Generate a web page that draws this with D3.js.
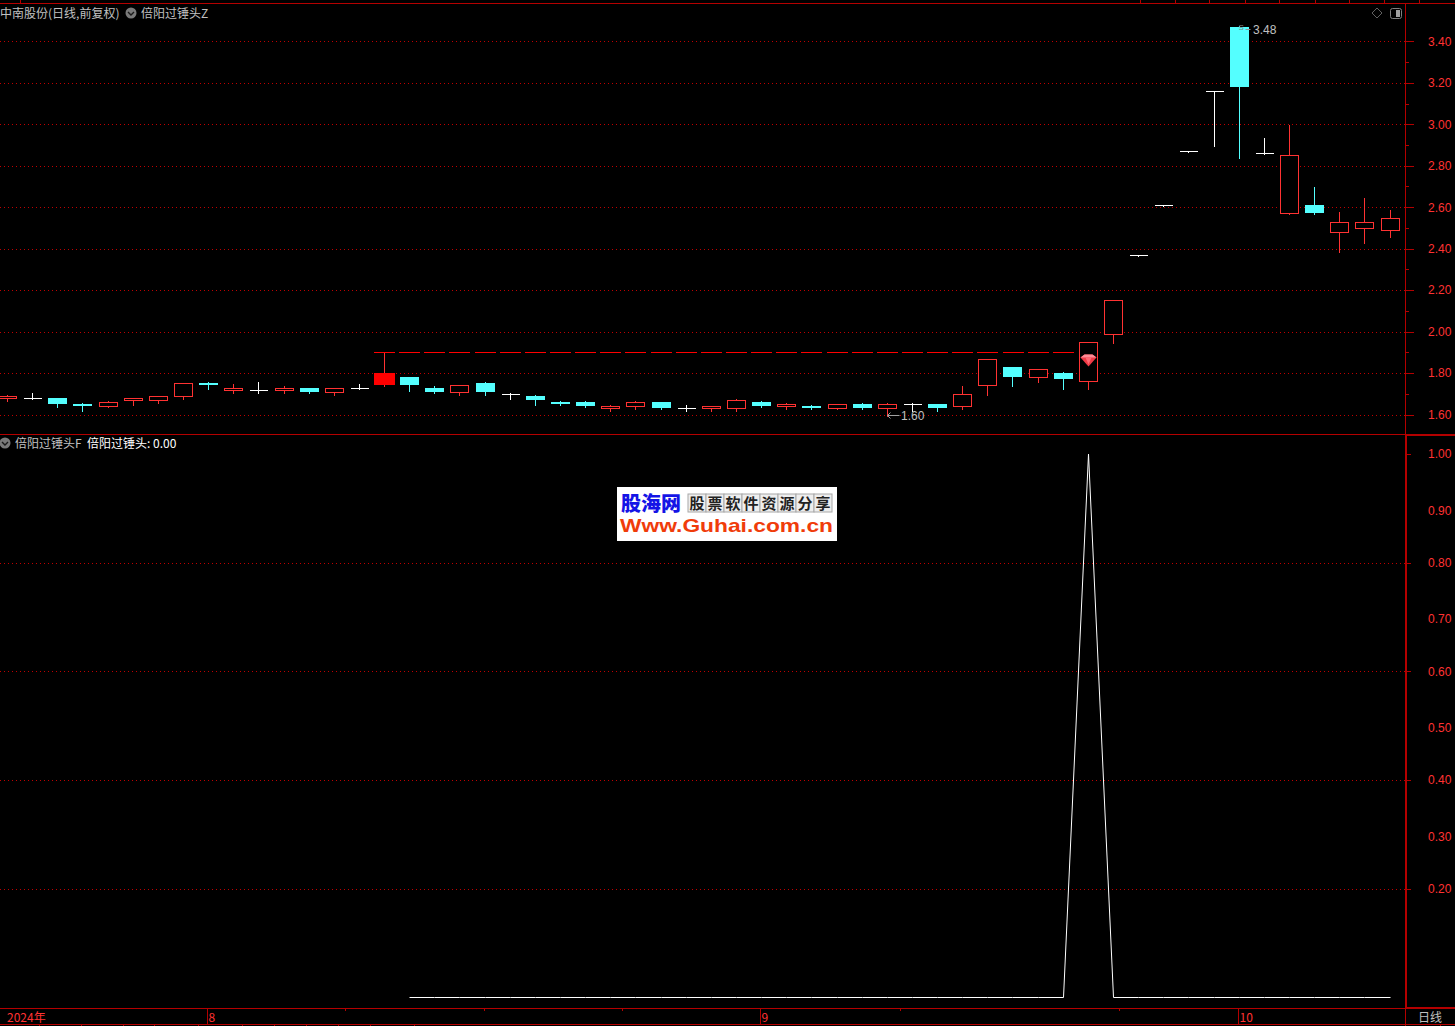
<!DOCTYPE html>
<html lang="zh">
<head>
<meta charset="utf-8">
<title>中南股份 日线</title>
<script src="https://cdn.jsdelivr.net/npm/d3@7"></script>
<style>
  html, body { margin: 0; padding: 0; background: #000; overflow: hidden; }
  svg { display: block; }
  text { font-family: "Noto Sans CJK SC", "Liberation Sans", sans-serif; font-size: 12px; }
  .num text, text.num { font-family: "Liberation Sans", sans-serif; }
</style>
</head>
<body>
<svg id="chart" width="1455" height="1026"></svg>
<script>
// Trading days shown in the window
const dates = [
  "07-22", "07-23", "07-24", "07-25", "07-26", "07-29", "07-30", "07-31",
  "08-01", "08-02", "08-05", "08-06", "08-07", "08-08", "08-09", "08-12",
  "08-13", "08-14", "08-15", "08-16", "08-19", "08-20", "08-21", "08-22",
  "08-23", "08-26", "08-27", "08-28", "08-29", "08-30",
  "09-02", "09-03", "09-04", "09-05", "09-06", "09-09", "09-10", "09-11",
  "09-12", "09-13", "09-18", "09-19", "09-20", "09-23", "09-24", "09-25",
  "09-26", "09-27", "09-30",
  "10-08", "10-09", "10-10", "10-11", "10-14", "10-15", "10-16"
];

const opens = [
  1.68, 1.68, 1.68, 1.65, 1.64, 1.67, 1.67, 1.69, 1.75, 1.72,
  1.72, 1.72, 1.73, 1.71, 1.73, 1.74, 1.78, 1.73, 1.71, 1.75,
  1.70, 1.69, 1.66, 1.66, 1.63, 1.64, 1.66, 1.63, 1.63, 1.63,
  1.66, 1.64, 1.64, 1.63, 1.65, 1.63, 1.65, 1.65, 1.64, 1.74,
  1.83, 1.78, 1.80, 1.76, 1.99, 2.37, 2.61, 2.87, 3.16, 3.47,
  2.86, 2.57, 2.61, 2.48, 2.50, 2.49
];
const highs = [
  1.70, 1.71, 1.68, 1.66, 1.67, 1.68, 1.69, 1.75, 1.76, 1.75,
  1.76, 1.74, 1.73, 1.73, 1.75, 1.90, 1.78, 1.74, 1.74, 1.76,
  1.71, 1.70, 1.67, 1.67, 1.65, 1.67, 1.66, 1.65, 1.64, 1.68,
  1.67, 1.66, 1.65, 1.65, 1.66, 1.66, 1.66, 1.65, 1.74, 1.87,
  1.83, 1.82, 1.81, 1.95, 2.15, 2.37, 2.61, 2.87, 3.16, 3.48,
  2.94, 3.00, 2.70, 2.58, 2.65, 2.59
];
const lows = [
  1.67, 1.68, 1.64, 1.62, 1.64, 1.65, 1.66, 1.68, 1.73, 1.71,
  1.71, 1.71, 1.71, 1.70, 1.73, 1.74, 1.72, 1.71, 1.70, 1.70,
  1.68, 1.65, 1.65, 1.64, 1.62, 1.63, 1.63, 1.62, 1.62, 1.62,
  1.64, 1.63, 1.63, 1.63, 1.63, 1.60, 1.62, 1.62, 1.63, 1.70,
  1.74, 1.76, 1.73, 1.73, 1.95, 2.37, 2.61, 2.87, 2.90, 2.84,
  2.86, 2.57, 2.57, 2.39, 2.43, 2.46
];
const closes = [
  1.69, 1.68, 1.65, 1.64, 1.66, 1.68, 1.69, 1.75, 1.74, 1.73,
  1.72, 1.73, 1.71, 1.73, 1.73, 1.80, 1.74, 1.71, 1.74, 1.71,
  1.70, 1.67, 1.65, 1.64, 1.64, 1.66, 1.63, 1.63, 1.64, 1.67,
  1.64, 1.65, 1.63, 1.65, 1.63, 1.65, 1.65, 1.63, 1.70, 1.87,
  1.78, 1.82, 1.77, 1.95, 2.15, 2.37, 2.61, 2.87, 3.16, 3.18,
  2.86, 2.85, 2.57, 2.53, 2.53, 2.55
];

// Indicator line, only drawn from the 17th day on
const signal = [
  null, null, null, null, null, null, null, null,
  null, null, null, null, null, null, null, null,
  0, 0, 0, 0, 0, 0, 0, 0, 0, 0, 0, 0, 0, 0,
  0, 0, 0, 0, 0, 0, 0, 0, 0, 0, 0, 0, 0, 1, 0, 0,
  0, 0, 0, 0, 0, 0, 0, 0, 0, 0
];

const filledUpDays = ["08-12"];       // solid red candle
const guideLevel = 1.90;
const guideFrom = "08-12";
const guideTo = "09-20";
const signalDay = "09-23";

const priceMajor = [1.6, 1.8, 2.0, 2.2, 2.4, 2.6, 2.8, 3.0, 3.2, 3.4];
const priceMinor = [1.7, 1.9, 2.1, 2.3, 2.5, 2.7, 2.9, 3.1, 3.3];
const signalGrid = [0.2, 0.4, 0.6, 0.8];
const signalMajor = [0.2, 0.4, 0.6, 0.8, 1.0];
const signalMinor = [0.3, 0.5, 0.7, 0.9];

const monthTicks = [
  { date: "07-22", label: "2024年" },
  { date: "08-01", label: "8" },
  { date: "09-02", label: "9" },
  { date: "10-08", label: "10" }
];

const RED = "#ff3232";
const CYAN = "#54ffff";
const DARK_RED = "#b40000";
const GREY = "#c0c0c0";

const W = 1455;
const H = 1026;
const plotRight = 1405.5;

const svg = d3.select("#chart").attr("viewBox", `0 0 ${W} ${H}`);
svg.append("rect").attr("width", W).attr("height", H).attr("fill", "#000");

const x = d3.scalePoint().domain(dates).range([7.5, 1390]);
const yPrice = d3.scaleLinear().domain([1.6, 3.4]).range([414.5, 41.3]);
const ySignal = d3.scaleLinear().domain([0, 1]).range([997.5, 454]);

const px = v => Math.round(v) + 0.5;
const cx = d => Math.floor(x(d)) + 0.5;

const candles = dates.map((date, i) => ({
  date,
  open: opens[i],
  high: highs[i],
  low: lows[i],
  close: closes[i]
}));

const gGrid = svg.append("g").attr("shape-rendering", "crispEdges");
const gFrame = svg.append("g").attr("shape-rendering", "crispEdges");
const gCandles = svg.append("g").attr("shape-rendering", "crispEdges");
const gLine = svg.append("g");
const gText = svg.append("g");

// Dotted grid lines
function gridLines(values, scale) {
  gGrid.append("g").selectAll("line").data(values).join("line")
    .attr("x1", 0)
    .attr("x2", plotRight)
    .attr("y1", d => px(scale(d)))
    .attr("y2", d => px(scale(d)))
    .attr("stroke", "#c00000")
    .attr("stroke-dasharray", "1 3");
}
gridLines(priceMajor, yPrice);
gridLines(signalGrid, ySignal);

// Right hand axes
function rightAxis(scale, values, size, padding, fmt) {
  const g = gFrame.append("g")
    .attr("class", "num")
    .attr("transform", `translate(${plotRight},0)`)
    .call(d3.axisRight(scale).tickValues(values).tickSize(size).tickPadding(padding).tickFormat(fmt));
  g.select(".domain").remove();
  g.selectAll("line").attr("stroke", DARK_RED);
  g.selectAll("text")
    .attr("fill", RED)
    .style("font-size", "12px");
  return g;
}
rightAxis(yPrice, priceMajor, 8, 14.5, d3.format(".2f"));
rightAxis(yPrice, priceMinor, 3, 0, () => "");
rightAxis(ySignal, signalMajor, 5, 17.5, d3.format(".2f"));
rightAxis(ySignal, signalMinor, 1, 21.5, d3.format(".2f"))
  .selectAll("text").attr("y", 2);

// Panel frame
const frame = [
  [0, 3.5, W, 3.5, 1],
  [0, 434.5, plotRight, 434.5, 1],
  [plotRight, 435, W, 435, 2],
  [0, 1008.5, plotRight, 1008.5, 1],
  [plotRight, 1008, W, 1008, 2],
  [0, 1024.5, W, 1024.5, 1],
  [plotRight, 3, plotRight, 435, 1],
  [1406, 435, 1406, 1008, 2],
  [plotRight, 1008, plotRight, H, 1]
];
gFrame.append("g").selectAll("line").data(frame).join("line")
  .attr("x1", d => d[0]).attr("y1", d => d[1])
  .attr("x2", d => d[2]).attr("y2", d => d[3])
  .attr("stroke", DARK_RED)
  .attr("stroke-width", d => d[4]);

// Small ticks on the window edges and the time axis
const topEdgeTicks = [20, 1140, 1175, 1209, 1245, 1279, 1315, 1349, 1384, 1419];
const bottomEdgeTicks = [39, 81, 123, 154, 198, 242, 274, 306, 338, 370, 414, 1440];
const timeMinorTicks = [345, 484, 622, 900, 1119];
gFrame.append("g").selectAll("line").data(topEdgeTicks).join("line")
  .attr("x1", d => d + 0.5).attr("x2", d => d + 0.5)
  .attr("y1", 0).attr("y2", 3)
  .attr("stroke", DARK_RED);
gFrame.append("g").selectAll("line").data(bottomEdgeTicks).join("line")
  .attr("x1", d => d + 0.5).attr("x2", d => d + 0.5)
  .attr("y1", 1024).attr("y2", H)
  .attr("stroke", DARK_RED);
gFrame.append("g").selectAll("line").data(timeMinorTicks).join("line")
  .attr("x1", d => d + 0.5).attr("x2", d => d + 0.5)
  .attr("y1", 1009).attr("y2", 1011)
  .attr("stroke", DARK_RED);
gFrame.append("g").selectAll("line").data(monthTicks.slice(1)).join("line")
  .attr("x1", d => cx(d.date) - 1).attr("x2", d => cx(d.date) - 1)
  .attr("y1", 1009).attr("y2", 1024)
  .attr("stroke", DARK_RED);

// Dashed level line
gCandles.append("line")
  .attr("x1", x(guideFrom) - 10.5)
  .attr("x2", x(guideTo) + 10.5)
  .attr("y1", px(yPrice(guideLevel)))
  .attr("y2", px(yPrice(guideLevel)))
  .attr("stroke", "#ff0000")
  .attr("stroke-dasharray", "21 4.14");

// Candles
function candleColor(d) {
  if (d.close > d.open) return RED;
  if (d.close < d.open) return CYAN;
  return "#ffffff";
}

const candle = gCandles.selectAll("g.candle").data(candles).join("g").attr("class", "candle");

candle.append("line")
  .attr("x1", d => cx(d.date))
  .attr("x2", d => cx(d.date))
  .attr("y1", d => px(yPrice(d.high)))
  .attr("y2", d => px(yPrice(d.low)) + 1)
  .attr("stroke", candleColor);

candle.filter(d => d.close === d.open).append("line")
  .attr("x1", d => cx(d.date) - 9)
  .attr("x2", d => cx(d.date) + 9)
  .attr("y1", d => px(yPrice(d.close)))
  .attr("y2", d => px(yPrice(d.close)))
  .attr("stroke", "#ffffff");

candle.filter(d => d.close > d.open && !filledUpDays.includes(d.date)).append("rect")
  .attr("x", d => cx(d.date) - 9)
  .attr("width", 18)
  .attr("y", d => px(yPrice(d.close)))
  .attr("height", d => px(yPrice(d.open)) - px(yPrice(d.close)))
  .attr("fill", "#000")
  .attr("stroke", RED);

candle.filter(d => d.close < d.open).append("rect")
  .attr("x", d => cx(d.date) - 9.5)
  .attr("width", 19)
  .attr("y", d => Math.round(yPrice(d.open)))
  .attr("height", d => Math.max(2, Math.round(yPrice(d.close)) - Math.round(yPrice(d.open))))
  .attr("fill", CYAN);

candle.filter(d => filledUpDays.includes(d.date)).append("rect")
  .attr("x", d => cx(d.date) - 10.5)
  .attr("width", 21)
  .attr("y", d => Math.round(yPrice(d.close)))
  .attr("height", d => Math.round(yPrice(d.open)) - Math.round(yPrice(d.close)))
  .attr("fill", "#ff0000");

// Gem marker on the signal day
const gem = gLine.append("g")
  .attr("transform", `translate(${cx(signalDay)},${yPrice(1.865)})`);
gem.append("path").attr("d", "M-8,-2 L-4,-5 L4,-5 L8,-2 L0,7 Z").attr("fill", "#f03a46");
gem.append("path").attr("d", "M-8,-2 L-4,-5 L4,-5 L8,-2 Z").attr("fill", "#ff8c96");
gem.append("path").attr("d", "M-3,-2 L3,-2 L0,5 Z").attr("fill", "#ff6a74");

// Indicator line
const signalLine = d3.line()
  .defined(d => d.value !== null)
  .x(d => cx(d.date))
  .y(d => ySignal(d.value));

gLine.append("path")
  .datum(dates.map((date, i) => ({ date, value: signal[i] })))
  .attr("d", signalLine)
  .attr("fill", "none")
  .attr("stroke", "#ffffff")
  .attr("stroke-width", 1);

// Time axis labels
gText.append("g").selectAll("text").data(monthTicks).join("text")
  .attr("x", d => cx(d.date) + (d.date === "07-22" ? -0.5 : 0))
  .attr("y", 1022)
  .attr("fill", RED)
  .text(d => d.label);

gText.append("text").attr("x", 1418).attr("y", 1022).attr("fill", GREY).text("日线");

// Chevron buttons in the panel headers
function chevron(px0, py0) {
  const g = gText.append("g").attr("transform", `translate(${px0},${py0})`);
  g.append("circle").attr("r", 5.5).attr("fill", "#7a7a7a");
  g.append("path")
    .attr("d", "M-3,-1 L0,2 L3,-1")
    .attr("fill", "none")
    .attr("stroke", "#1a1a1a")
    .attr("stroke-width", 1.4);
}
chevron(131, 13);
chevron(5, 443);

gText.append("text").attr("x", 0).attr("y", 18).attr("fill", GREY).text("中南股份(日线,前复权)");
gText.append("text").attr("x", 141).attr("y", 18).attr("fill", GREY).text("倍阳过锤头Z");
gText.append("text").attr("x", 15).attr("y", 448).attr("fill", GREY).text("倍阳过锤头F");
gText.append("text").attr("x", 87).attr("y", 448).attr("fill", "#ffffff").text("倍阳过锤头: 0.00");

// Window icons, top right
gText.append("path")
  .attr("d", "M1377,8 L1382,13 L1377,18 L1372,13 Z")
  .attr("fill", "none")
  .attr("stroke", "#606060");
gText.append("rect")
  .attr("x", 1390.5).attr("y", 8.5).attr("width", 11).attr("height", 10).attr("rx", 2)
  .attr("fill", "none").attr("stroke", "#808080");
gText.append("rect")
  .attr("x", 1396).attr("y", 10).attr("width", 4).attr("height", 7)
  .attr("fill", "#a0a0a0");

// High and low notes
const hiDay = "10-08";
const loDay = "09-09";
gText.append("path")
  .attr("d", `M${cx(hiDay) + 6},${px(yPrice(3.48)) + 4} H${cx(hiDay) + 11}`)
  .attr("stroke", "#909090");
gText.append("text")
  .attr("class", "num")
  .attr("x", cx(hiDay) - 1)
  .attr("y", yPrice(3.48) + 5)
  .attr("fill", "#808080")
  .style("font-size", "8px")
  .text("S");
gText.append("text")
  .attr("class", "num")
  .attr("x", cx(hiDay) + 13.5)
  .attr("y", yPrice(3.48) + 9)
  .attr("fill", GREY)
  .text(d3.format(".2f")(d3.max(highs)));
gText.append("path")
  .attr("d", `M${cx(loDay) + 12},${px(yPrice(1.6))} H${cx(loDay)} M${cx(loDay) + 3},${px(yPrice(1.6)) - 3} L${cx(loDay)},${px(yPrice(1.6))} L${cx(loDay) + 3},${px(yPrice(1.6)) + 3}`)
  .attr("fill", "none")
  .attr("stroke", "#a0a0a0");
gText.append("text")
  .attr("class", "num")
  .attr("x", cx(loDay) + 13.5)
  .attr("y", yPrice(1.6) + 5)
  .attr("fill", GREY)
  .text(d3.format(".2f")(d3.min(lows)));

// Site logo pasted over the chart
const logo = gText.append("g").attr("transform", "translate(617,487)");
logo.append("rect").attr("width", 220).attr("height", 54).attr("fill", "#ffffff");
logo.append("text")
  .attr("x", 4).attr("y", 24)
  .attr("fill", "#1414e6")
  .style("font-size", "20px")
  .style("font-weight", 900)
  .text("股海网");
const boxChars = ["股", "票", "软", "件", "资", "源", "分", "享"];
const cell = d3.scaleBand().domain(boxChars).range([71, 215]);
logo.append("g").selectAll("rect").data(boxChars).join("rect")
  .attr("x", d => cell(d)).attr("y", 7)
  .attr("width", cell.bandwidth()).attr("height", 18)
  .attr("fill", "#eeeeee").attr("stroke", "#a8a8a8");
logo.append("g").selectAll("text").data(boxChars).join("text")
  .attr("x", d => cell(d) + cell.bandwidth() / 2).attr("y", 21.5)
  .attr("text-anchor", "middle")
  .attr("fill", "#222222")
  .style("font-size", "15px")
  .style("font-weight", 700)
  .text(d => d);
logo.append("text")
  .attr("class", "num")
  .attr("x", 3).attr("y", 45)
  .attr("fill", "#f03c0a")
  .attr("textLength", 213)
  .attr("lengthAdjust", "spacingAndGlyphs")
  .style("font-size", "19px")
  .style("font-weight", 700)
  .text("Www.Guhai.com.cn");
</script>
</body>
</html>
